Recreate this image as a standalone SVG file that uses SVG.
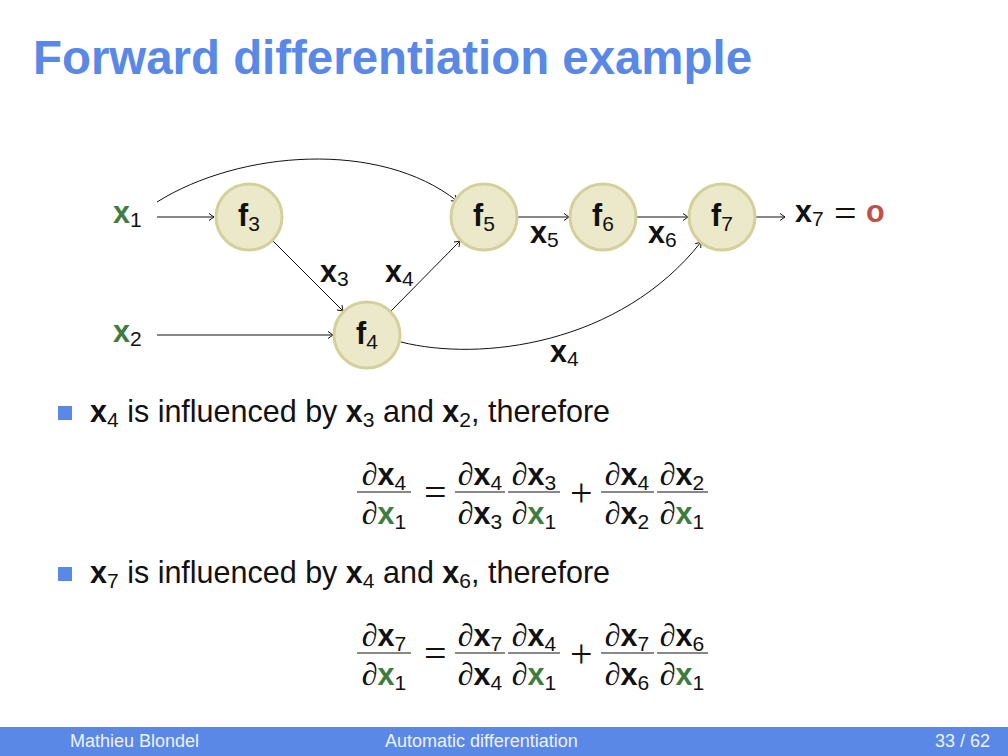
<svg xmlns="http://www.w3.org/2000/svg" width="1008" height="756" viewBox="0 0 1008 756">
<style>
text{font-family:"Liberation Sans",Arial,sans-serif;fill:#111}
.t{font-size:30.5px}
.b{font-weight:bold}
.s{font-size:21px;font-weight:normal}
.g{fill:#3e7d3e}
.d{font-family:"Liberation Serif","DejaVu Serif",serif;font-style:italic;font-size:32px}
.op{font-family:"Liberation Serif","DejaVu Serif",serif;font-size:40px;font-weight:normal}
.node circle{fill:#ebe9c9;stroke:#d3d19b;stroke-width:3}
.edge{fill:none;stroke:#111;stroke-width:1}
.bar{stroke:#111;stroke-width:1}
.foot{font-size:18px;fill:#eef2fc}
</style>
<defs>
<marker id="arr" markerWidth="10" markerHeight="10" viewBox="-6 -5 8 10" refX="0" refY="0" orient="auto" markerUnits="userSpaceOnUse">
<path d="M -5 -3.5 Q -1.5 -1 0 0 Q -1.5 1 -5 3.5" fill="none" stroke="#111" stroke-width="1"/>
</marker>
</defs>
<rect width="1008" height="756" fill="#fff"/>
<text x="33" y="74" textLength="719" lengthAdjust="spacingAndGlyphs" style="font-size:48px;font-weight:bold;fill:#5a88e6">Forward differentiation example</text>

<g id="connectors">
<line class="edge" x1="157" y1="217" x2="214" y2="217" marker-end="url(#arr)"/>
<line class="edge" x1="157" y1="335" x2="333" y2="335" marker-end="url(#arr)"/>
<line class="edge" x1="273" y1="241" x2="343" y2="311" marker-end="url(#arr)"/>
<line class="edge" x1="391" y1="311" x2="460" y2="241" marker-end="url(#arr)"/>
<line class="edge" x1="518" y1="217" x2="569" y2="217" marker-end="url(#arr)"/>
<line class="edge" x1="637" y1="217" x2="688" y2="217" marker-end="url(#arr)"/>
<line class="edge" x1="756" y1="217" x2="785" y2="217" marker-end="url(#arr)"/>
<path class="edge" d="M 157 202 C 240 150, 380 140, 457 201" marker-end="url(#arr)"/>
<path class="edge" d="M 401 342 C 480 362, 620 345, 701 242" marker-end="url(#arr)"/>
</g>

<g id="n-x1"><text class="t" x="113" y="223"><tspan class="b g">x</tspan><tspan class="s" dy="4">1</tspan></text></g>
<g id="n-x2"><text class="t" x="113" y="342"><tspan class="b g">x</tspan><tspan class="s" dy="4">2</tspan></text></g>
<g id="n-f3" class="node"><circle cx="249" cy="217" r="33"/><text class="t" x="249" y="226" text-anchor="middle"><tspan class="b">f</tspan><tspan class="s" dy="5">3</tspan></text></g>
<g id="n-f4" class="node"><circle cx="367" cy="335" r="33"/><text class="t" x="367" y="344" text-anchor="middle"><tspan class="b">f</tspan><tspan class="s" dy="5">4</tspan></text></g>
<g id="n-f5" class="node"><circle cx="484" cy="217" r="33"/><text class="t" x="484" y="226" text-anchor="middle"><tspan class="b">f</tspan><tspan class="s" dy="5">5</tspan></text></g>
<g id="n-f6" class="node"><circle cx="603" cy="217" r="33"/><text class="t" x="603" y="226" text-anchor="middle"><tspan class="b">f</tspan><tspan class="s" dy="5">6</tspan></text></g>
<g id="n-f7" class="node"><circle cx="722" cy="217" r="33"/><text class="t" x="722" y="226" text-anchor="middle"><tspan class="b">f</tspan><tspan class="s" dy="5">7</tspan></text></g>
<g id="n-out"><text class="t" x="795" y="222"><tspan class="b">x</tspan><tspan class="s" dy="4">7</tspan></text><text class="op" x="834" y="227">=</text><text class="t b" x="866" y="222" style="fill:#c2504a">o</text></g>

<g id="edge-labels">
<text class="t" x="320" y="282"><tspan class="b">x</tspan><tspan class="s" dy="4">3</tspan></text>
<text class="t" x="385" y="282"><tspan class="b">x</tspan><tspan class="s" dy="4">4</tspan></text>
<text class="t" x="530" y="243"><tspan class="b">x</tspan><tspan class="s" dy="4">5</tspan></text>
<text class="t" x="648" y="243"><tspan class="b">x</tspan><tspan class="s" dy="4">6</tspan></text>
<text class="t" x="550" y="362"><tspan class="b">x</tspan><tspan class="s" dy="4">4</tspan></text>
</g>

<rect x="58" y="406" width="14" height="14" fill="#5a88e6"/>
<text class="t" x="90" y="422"><tspan class="b">x</tspan><tspan class="s" dy="5">4</tspan><tspan dy="-5"> is influenced by </tspan><tspan class="b">x</tspan><tspan class="s" dy="5">3</tspan><tspan dy="-5"> and </tspan><tspan class="b">x</tspan><tspan class="s" dy="5">2</tspan><tspan dy="-5">, therefore</tspan></text>

<g id="eq1" class="t">
<text x="384" y="485" text-anchor="middle"><tspan class="d">∂</tspan><tspan class="b">x</tspan><tspan class="s" dy="5">4</tspan></text>
<line class="bar" x1="357" y1="492" x2="411" y2="492"/>
<text x="384" y="524" text-anchor="middle"><tspan class="d">∂</tspan><tspan class="b g">x</tspan><tspan class="s" dy="5">1</tspan></text>
<text class="op" x="424" y="506">=</text>
<text x="480" y="485" text-anchor="middle"><tspan class="d">∂</tspan><tspan class="b">x</tspan><tspan class="s" dy="5">4</tspan></text>
<line class="bar" x1="455" y1="492" x2="505" y2="492"/>
<text x="480" y="524" text-anchor="middle"><tspan class="d">∂</tspan><tspan class="b">x</tspan><tspan class="s" dy="5">3</tspan></text>
<text x="534" y="485" text-anchor="middle"><tspan class="d">∂</tspan><tspan class="b">x</tspan><tspan class="s" dy="5">3</tspan></text>
<line class="bar" x1="508" y1="492" x2="560" y2="492"/>
<text x="534" y="524" text-anchor="middle"><tspan class="d">∂</tspan><tspan class="b g">x</tspan><tspan class="s" dy="5">1</tspan></text>
<text class="op" x="570" y="506">+</text>
<text x="627" y="485" text-anchor="middle"><tspan class="d">∂</tspan><tspan class="b">x</tspan><tspan class="s" dy="5">4</tspan></text>
<line class="bar" x1="601" y1="492" x2="654" y2="492"/>
<text x="627" y="524" text-anchor="middle"><tspan class="d">∂</tspan><tspan class="b">x</tspan><tspan class="s" dy="5">2</tspan></text>
<text x="682" y="485" text-anchor="middle"><tspan class="d">∂</tspan><tspan class="b">x</tspan><tspan class="s" dy="5">2</tspan></text>
<line class="bar" x1="657" y1="492" x2="708" y2="492"/>
<text x="682" y="524" text-anchor="middle"><tspan class="d">∂</tspan><tspan class="b g">x</tspan><tspan class="s" dy="5">1</tspan></text>
</g>

<rect x="58" y="567" width="14" height="14" fill="#5a88e6"/>
<text class="t" x="90" y="583"><tspan class="b">x</tspan><tspan class="s" dy="5">7</tspan><tspan dy="-5"> is influenced by </tspan><tspan class="b">x</tspan><tspan class="s" dy="5">4</tspan><tspan dy="-5"> and </tspan><tspan class="b">x</tspan><tspan class="s" dy="5">6</tspan><tspan dy="-5">, therefore</tspan></text>

<g id="eq2" class="t">
<text x="384" y="646" text-anchor="middle"><tspan class="d">∂</tspan><tspan class="b">x</tspan><tspan class="s" dy="5">7</tspan></text>
<line class="bar" x1="357" y1="653" x2="411" y2="653"/>
<text x="384" y="685" text-anchor="middle"><tspan class="d">∂</tspan><tspan class="b g">x</tspan><tspan class="s" dy="5">1</tspan></text>
<text class="op" x="424" y="667">=</text>
<text x="480" y="646" text-anchor="middle"><tspan class="d">∂</tspan><tspan class="b">x</tspan><tspan class="s" dy="5">7</tspan></text>
<line class="bar" x1="455" y1="653" x2="505" y2="653"/>
<text x="480" y="685" text-anchor="middle"><tspan class="d">∂</tspan><tspan class="b">x</tspan><tspan class="s" dy="5">4</tspan></text>
<text x="534" y="646" text-anchor="middle"><tspan class="d">∂</tspan><tspan class="b">x</tspan><tspan class="s" dy="5">4</tspan></text>
<line class="bar" x1="508" y1="653" x2="560" y2="653"/>
<text x="534" y="685" text-anchor="middle"><tspan class="d">∂</tspan><tspan class="b g">x</tspan><tspan class="s" dy="5">1</tspan></text>
<text class="op" x="570" y="667">+</text>
<text x="627" y="646" text-anchor="middle"><tspan class="d">∂</tspan><tspan class="b">x</tspan><tspan class="s" dy="5">7</tspan></text>
<line class="bar" x1="601" y1="653" x2="654" y2="653"/>
<text x="627" y="685" text-anchor="middle"><tspan class="d">∂</tspan><tspan class="b">x</tspan><tspan class="s" dy="5">6</tspan></text>
<text x="682" y="646" text-anchor="middle"><tspan class="d">∂</tspan><tspan class="b">x</tspan><tspan class="s" dy="5">6</tspan></text>
<line class="bar" x1="657" y1="653" x2="708" y2="653"/>
<text x="682" y="685" text-anchor="middle"><tspan class="d">∂</tspan><tspan class="b g">x</tspan><tspan class="s" dy="5">1</tspan></text>
</g>

<rect x="0" y="727" width="1008" height="29" fill="#5a88e6"/>
<text class="foot" x="70" y="747">Mathieu Blondel</text>
<text class="foot" x="385" y="747">Automatic differentiation</text>
<text class="foot" x="990" y="747" text-anchor="end">33 / 62</text>
</svg>
